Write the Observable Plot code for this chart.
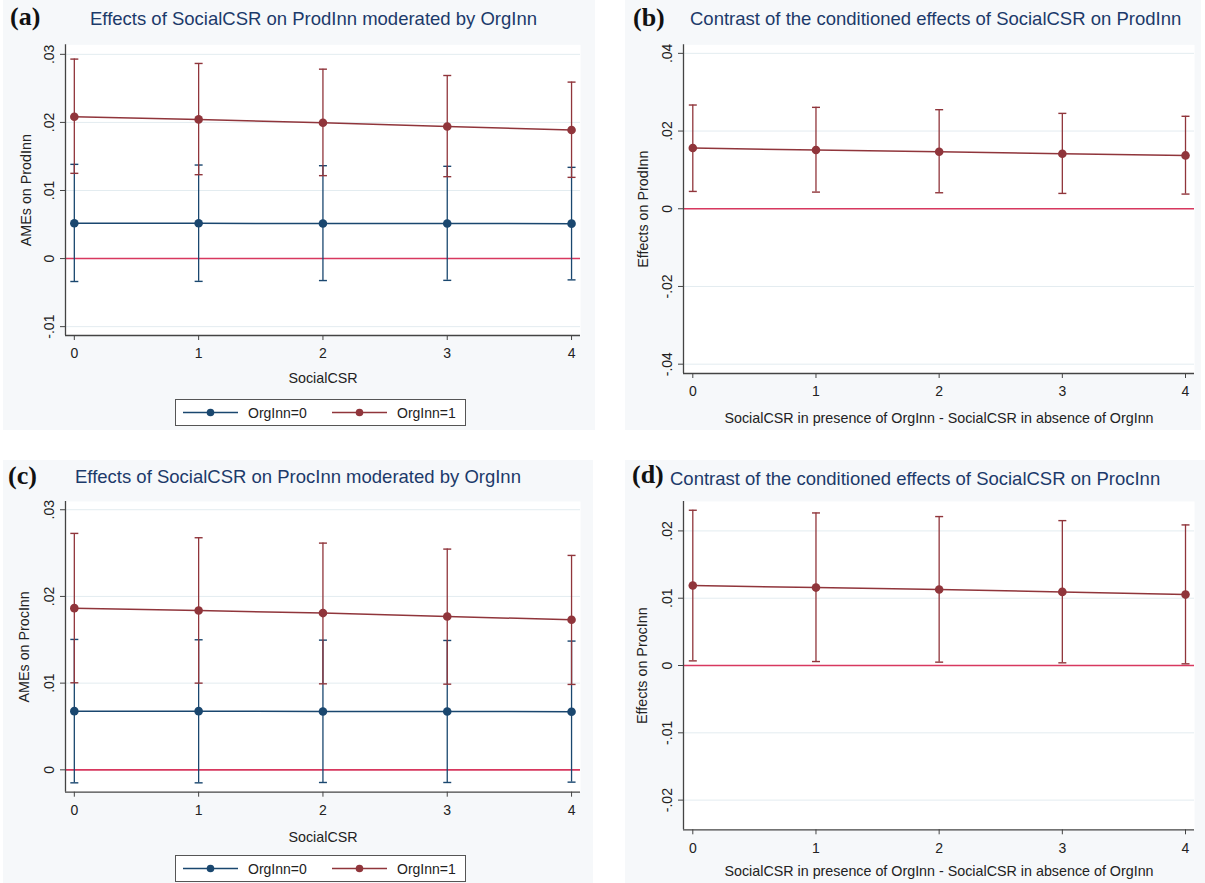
<!DOCTYPE html>
<html><head><meta charset="utf-8">
<script src="https://cdn.jsdelivr.net/npm/d3@7"></script>
<script src="https://cdn.jsdelivr.net/npm/@observablehq/plot@0.6"></script>
<style>
body{margin:0;background:#fff;font-family:"Liberation Sans",Arial,sans-serif;}
#root{position:relative;width:1205px;height:883px;overflow:hidden;background:#fff;}
.bg{position:absolute;background:#f6f8fa;}
.tag{position:absolute;font-family:"Liberation Serif","Times New Roman",serif;font-weight:bold;font-size:26px;color:#111;line-height:1;white-space:nowrap;}
.title{position:absolute;font-size:18.5px;color:#1c3a6a;white-space:nowrap;line-height:1;}
.plot{position:absolute;}
.legend{position:absolute;border:1px solid #555;background:#fff;box-sizing:border-box;}
.legend span{position:absolute;font-size:14px;color:#222;white-space:nowrap;line-height:1;}
</style></head>
<body><div id="root"></div>
<script>
// ---------------- data ----------------
const socialCSR = [0, 1, 2, 3, 4];
const yTicksA = [-0.01, 0, 0.01, 0.02, 0.03];
const yTicksB = [-0.04, -0.02, 0, 0.02, 0.04];
const yTicksC = [0, 0.01, 0.02, 0.03];
const yTicksD = [-0.02, -0.01, 0, 0.01, 0.02];
const seriesNames = ["OrgInn=0", "OrgInn=1"];

// (a) AMEs on ProdInn
const prodOrg0   = [0.00518, 0.00518, 0.00515, 0.00515, 0.00513];
const prodOrg0Lo = [-0.00337, -0.00335, -0.00323, -0.00320, -0.00313];
const prodOrg0Hi = [0.01384, 0.01374, 0.01364, 0.01355, 0.01340];
const prodOrg1   = [0.02083, 0.02044, 0.01995, 0.01941, 0.01888];
const prodOrg1Lo = [0.01252, 0.01232, 0.01218, 0.01203, 0.01193];
const prodOrg1Hi = [0.02930, 0.02866, 0.02782, 0.02689, 0.02592];
// (b) contrast on ProdInn
const prodContrast   = [0.01562, 0.01511, 0.01468, 0.01416, 0.01373];
const prodContrastLo = [0.00446, 0.00429, 0.00412, 0.00395, 0.00378];
const prodContrastHi = [0.02670, 0.02610, 0.02550, 0.02455, 0.02380];
// (c) AMEs on ProcInn
const procOrg0   = [0.00677, 0.00677, 0.00673, 0.00673, 0.00670];
const procOrg0Lo = [-0.00150, -0.00150, -0.00146, -0.00146, -0.00142];
const procOrg0Hi = [0.01504, 0.01500, 0.01496, 0.01492, 0.01485];
const procOrg1   = [0.01865, 0.01838, 0.01808, 0.01769, 0.01731];
const procOrg1Lo = [0.01004, 0.01000, 0.00992, 0.00988, 0.00985];
const procOrg1Hi = [0.02727, 0.02677, 0.02615, 0.02546, 0.02473];
// (d) contrast on ProcInn
const procContrast   = [0.01188, 0.01158, 0.01129, 0.01094, 0.01054];
const procContrastLo = [0.00069, 0.00059, 0.00050, 0.00040, 0.00025];
const procContrastHi = [0.02307, 0.02267, 0.02213, 0.02153, 0.02089];

// ---------------- styles ----------------
const BLUE = "#1a476f", RED = "#90353b", ZERO = "#d8385f", AXIS = "#444", TEXT = "#222";
const fmt = d => Math.abs(d) < 1e-12 ? "0" : d.toFixed(2).replace(/^(-?)0\./, "$1.");
const capSymbol = {draw(ctx, size) { const r = Math.sqrt(size / Math.PI); ctx.moveTo(-r, 0); ctx.lineTo(r, 0); }};

function panel(o) {
  const marks = [
    Plot.frame({fill: "white", stroke: null}),
    Plot.gridY(o.yTicks, {stroke: "#e3ecf0", strokeOpacity: 1, strokeWidth: 1}),
    Plot.ruleY([0], {stroke: ZERO, strokeWidth: 1.6})
  ];
  for (const s of o.series) {
    const rows = socialCSR.map((x, i) => ({x, y: s.y[i], lo: s.lo[i], hi: s.hi[i]}));
    marks.push(
      Plot.ruleX(rows, {x: "x", y1: "lo", y2: "hi", stroke: s.color, strokeWidth: 1.3}),
      Plot.dot(rows, {x: "x", y: "hi", symbol: capSymbol, r: 4, stroke: s.color, fill: "none", strokeWidth: 1.4}),
      Plot.dot(rows, {x: "x", y: "lo", symbol: capSymbol, r: 4, stroke: s.color, fill: "none", strokeWidth: 1.4}),
      Plot.line(rows, {x: "x", y: "y", stroke: s.color, strokeWidth: 1.5}),
      Plot.dot(rows, {x: "x", y: "y", r: 4.3, fill: s.color, stroke: "none"})
    );
  }
  marks.push(
    Plot.ruleX([o.xDomain[0]], {stroke: AXIS, strokeWidth: 1.3}),
    Plot.ruleY([o.yDomain[0]], {stroke: AXIS, strokeWidth: 1.3}),
    Plot.axisY({ticks: o.yTicks, tickFormat: fmt, tickSize: 5, tickPadding: 7, tickRotate: -90, label: null, fill: TEXT}),
    Plot.axisX({ticks: socialCSR, tickFormat: d => String(d), tickSize: 5, tickPadding: 8, label: null, fill: TEXT}),
    Plot.text([o.yLabel], {frameAnchor: "left", rotate: -90, dx: o.yLabelDx, textAnchor: "middle", lineAnchor: "middle", fill: TEXT, fontSize: 14.3}),
    Plot.text([o.xLabel], {frameAnchor: "bottom", dy: o.xLabelDy, textAnchor: "middle", lineAnchor: "middle", fill: TEXT, fontSize: 14.3})
  );
  const svg = Plot.plot({
    width: o.width, height: o.height,
    marginTop: o.mt, marginRight: o.mr, marginBottom: o.mb, marginLeft: o.ml,
    x: {domain: o.xDomain}, y: {domain: o.yDomain},
    style: {background: "transparent", fontFamily: "'Liberation Sans', Arial, sans-serif", fontSize: "14px", color: AXIS, overflow: "visible"},
    marks
  });
  svg.classList.add("plot");
  svg.style.left = o.left + "px";
  svg.style.top = o.top + "px";
  return svg;
}

const root = document.getElementById("root");
function add(cls, html, css) {
  const d = document.createElement("div");
  d.className = cls; d.innerHTML = html; Object.assign(d.style, css); root.appendChild(d); return d;
}
function legend(left, top, colors) {
  const box = add("legend", "", {left: left + "px", top: top + "px", width: "291px", height: "27px"});
  const items = [{x0: 7, tx: 72}, {x0: 156, tx: 221}];
  colors.forEach((c, i) => {
    const it = items[i];
    box.insertAdjacentHTML("beforeend",
      `<svg style="position:absolute;left:${it.x0}px;top:0" width="56" height="25"><line x1="0" x2="55" y1="12.5" y2="12.5" stroke="${c}" stroke-width="1.5"/><circle cx="27.5" cy="12.5" r="3.8" fill="${c}"/></svg>` +
      `<span style="left:${it.tx}px;top:6px">${seriesNames[i]}</span>`);
  });
}

// backgrounds
add("bg", "", {left: "3px", top: "0px", width: "592px", height: "430px"});
add("bg", "", {left: "625px", top: "0px", width: "576px", height: "430px"});
add("bg", "", {left: "3px", top: "460px", width: "590px", height: "423px"});
add("bg", "", {left: "625px", top: "460px", width: "580px", height: "423px"});

// (a)
root.appendChild(panel({
  left: 0, top: 30, width: 600, height: 365, mt: 14.3, mr: 20, mb: 60, ml: 65,
  xDomain: [-0.071, 4.072], yDomain: [-0.0113, 0.0314], yTicks: yTicksA,
  yLabel: "AMEs on ProdInn", yLabelDx: -39, xLabel: "SocialCSR", xLabelDy: 43,
  series: [
    {y: prodOrg0, lo: prodOrg0Lo, hi: prodOrg0Hi, color: BLUE},
    {y: prodOrg1, lo: prodOrg1Lo, hi: prodOrg1Hi, color: RED}
  ]
}));
// (b)
root.appendChild(panel({
  left: 600, top: 30, width: 605, height: 400, mt: 14.3, mr: 11, mb: 57, ml: 83,
  xDomain: [-0.0755, 4.073], yDomain: [-0.0424, 0.0422], yTicks: yTicksB,
  yLabel: "Effects on ProdInn", yLabelDx: -40, xLabel: "SocialCSR in presence of OrgInn - SocialCSR in absence of OrgInn", xLabelDy: 45,
  series: [{y: prodContrast, lo: prodContrastLo, hi: prodContrastHi, color: RED}]
}));
// (c)
root.appendChild(panel({
  left: 0, top: 490, width: 600, height: 360, mt: 11, mr: 20, mb: 58.3, ml: 65,
  xDomain: [-0.071, 4.072], yDomain: [-0.00258, 0.03095], yTicks: yTicksC,
  yLabel: "AMEs on ProcInn", yLabelDx: -41, xLabel: "SocialCSR", xLabelDy: 45,
  series: [
    {y: procOrg0, lo: procOrg0Lo, hi: procOrg0Hi, color: BLUE},
    {y: procOrg1, lo: procOrg1Lo, hi: procOrg1Hi, color: RED}
  ]
}));
// (d)
root.appendChild(panel({
  left: 600, top: 490, width: 605, height: 393, mt: 11, mr: 11, mb: 53.7, ml: 83,
  xDomain: [-0.0755, 4.073], yDomain: [-0.02441, 0.02437], yTicks: yTicksD,
  yLabel: "Effects on ProcInn", yLabelDx: -41, xLabel: "SocialCSR in presence of OrgInn - SocialCSR in absence of OrgInn", xLabelDy: 42,
  series: [{y: procContrast, lo: procContrastLo, hi: procContrastHi, color: RED}]
}));

// titles & tags
add("tag", "(a)", {left: "10px", top: "4px"});
add("title", "Effects of SocialCSR on ProdInn moderated by OrgInn", {left: "90px", top: "10px"});
add("tag", "(b)", {left: "633px", top: "5px"});
add("title", "Contrast of the conditioned effects of SocialCSR on ProdInn", {left: "690px", top: "10px"});
add("tag", "(c)", {left: "8px", top: "463px"});
add("title", "Effects of SocialCSR on ProcInn moderated by OrgInn", {left: "75px", top: "468px"});
add("tag", "(d)", {left: "632px", top: "462px"});
add("title", "Contrast of the conditioned effects of SocialCSR on ProcInn", {left: "670px", top: "470px"});

legend(175, 399, [BLUE, RED]);
legend(175, 855, [BLUE, RED]);
</script></body></html>
